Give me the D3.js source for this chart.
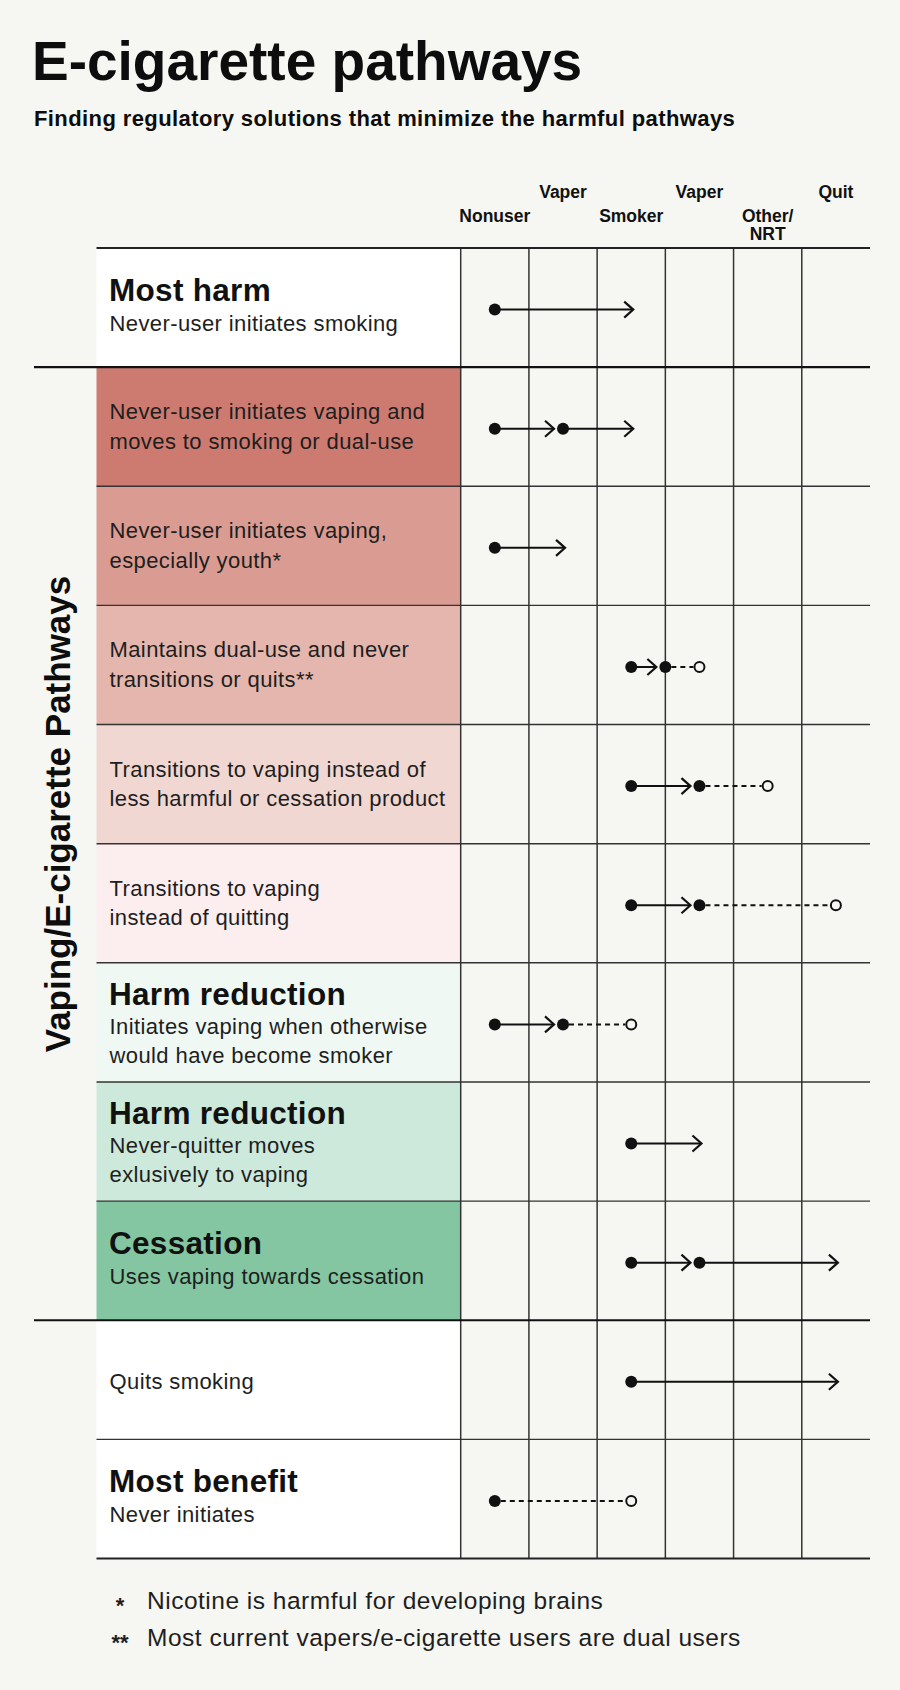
<!DOCTYPE html>
<html>
<head>
<meta charset="utf-8">
<script src="https://cdn.jsdelivr.net/npm/d3@7"></script>
<style>
  html, body { margin: 0; padding: 0; background: #f6f6f2; }
  svg { display: block; }
</style>
</head>
<body>
<svg id="chart" width="900" height="1690"></svg>
<script>
// ---------- data ----------
const titleText = "E-cigarette pathways";
const subtitleText = "Finding regulatory solutions that minimize the harmful pathways";
const groupLabel = "Vaping/E-cigarette Pathways";

const headerLines = [["Nonuser"], ["Vaper"], ["Smoker"], ["Vaper"], ["Other/", "NRT"], ["Quit"]];
const headerTier = [1, 0, 1, 0, 1, 0];

// state positions on the column axis (column index + 0.5 = column centre)
const states = { Nonuser: 0.5, VaperInit: 1.5, Smoker: 2.5, Dual: 3, Vaper: 3.5, Other: 4.5, Quit: 5.5 };

const rowTitles = ["Most harm", null, null, null, null, null, "Harm reduction", "Harm reduction", "Cessation", null, "Most benefit"];
const rowLines = [
  ["Never-user initiates smoking"],
  ["Never-user initiates vaping and", "moves to smoking or dual-use"],
  ["Never-user initiates vaping,", "especially youth*"],
  ["Maintains dual-use and never", "transitions or quits**"],
  ["Transitions to vaping instead of", "less harmful or cessation product"],
  ["Transitions to vaping", "instead of quitting"],
  ["Initiates vaping when otherwise", "would have become smoker"],
  ["Never-quitter moves", "exlusively to vaping"],
  ["Uses vaping towards cessation"],
  ["Quits smoking"],
  ["Never initiates"]
];
const rowFill = ["#ffffff", "#cd7b71", "#da9c92", "#e4b6ad", "#f1d7d2", "#fcedef",
                 "#eff8f3", "#cde9db", "#83c6a1", "#ffffff", "#ffffff"];

const rowSteps = [
  [["Nonuser", "Smoker", "solid"]],
  [["Nonuser", "VaperInit", "solid"], ["VaperInit", "Smoker", "solid"]],
  [["Nonuser", "VaperInit", "solid"]],
  [["Smoker", "Dual", "solid"], ["Dual", "Vaper", "dashed"]],
  [["Smoker", "Vaper", "solid"], ["Vaper", "Other", "dashed"]],
  [["Smoker", "Vaper", "solid"], ["Vaper", "Quit", "dashed"]],
  [["Nonuser", "VaperInit", "solid"], ["VaperInit", "Smoker", "dashed"]],
  [["Smoker", "Vaper", "solid"]],
  [["Smoker", "Vaper", "solid"], ["Vaper", "Quit", "solid"]],
  [["Smoker", "Quit", "solid"]],
  [["Nonuser", "Smoker", "dashed"]]
];

const footMarks = ["*", "**"];
const footTexts = ["Nicotine is harmful for developing brains", "Most current vapers/e-cigarette users are dual users"];

// ---------- layout ----------
const svg = d3.select("#chart");
const W = 900;
const panelLeft = 96.5, gridLeft = 460.7, gridRight = 870, sepLeft = 34;
const gridTop = 248, gridBottom = 1558.5;

const x = d3.scaleLinear().domain([0, 6]).range([gridLeft, gridRight]);
const y = d3.scaleBand().domain(d3.range(rowLines.length)).range([gridTop, gridBottom]).paddingInner(0).paddingOuter(0);

const headFont = "'Liberation Sans', Arial, sans-serif";
const bodyFont = "'Liberation Sans', Arial, sans-serif";

svg.append("rect").attr("width", W).attr("height", 1690).attr("fill", "#f6f6f2");

// title
svg.append("text").attr("x", 32).attr("y", 80)
  .attr("font-family", headFont).attr("font-weight", 700).attr("font-size", 55)
  .attr("fill", "#0d0d0d").text(titleText);
svg.append("text").attr("x", 34).attr("y", 126)
  .attr("font-family", headFont).attr("font-weight", 700).attr("font-size", 22)
  .attr("letter-spacing", 0.4)
  .attr("fill", "#0d0d0d").text(subtitleText);

// header labels
const hdr = svg.append("g");
headerLines.forEach((lines, i) => {
  const base = headerTier[i] === 0 ? 198 : 222;
  const t = hdr.append("text").attr("text-anchor", "middle")
    .attr("font-family", headFont).attr("font-weight", 700).attr("font-size", 17.5)
    .attr("fill", "#111");
  lines.forEach((l, j) => {
    t.append("tspan").attr("x", x(i + 0.5)).attr("y", base + j * 18).text(l);
  });
});

// row label panels
svg.append("g").selectAll("rect").data(rowFill).join("rect")
  .attr("x", panelLeft).attr("y", (d, i) => y(i))
  .attr("width", gridLeft - panelLeft).attr("height", y.bandwidth())
  .attr("fill", d => d);

// row texts
const txt = svg.append("g");
rowLines.forEach((lines, i) => {
  const t0 = y(i);
  const title = rowTitles[i];
  let titleY, lineYs;
  if (title && lines.length === 2) { titleY = 42.5; lineYs = [71, 100]; }
  else if (title) { titleY = 53; lineYs = [83]; }
  else if (lines.length === 2) { lineYs = [52, 81.5]; }
  else { lineYs = [68.5]; }
  if (title) {
    txt.append("text").attr("x", 109).attr("y", t0 + titleY)
      .attr("font-family", bodyFont).attr("font-weight", 700).attr("font-size", 31.5)
      .attr("letter-spacing", 0.3).attr("fill", "#111").text(title);
  }
  lines.forEach((l, j) => {
    txt.append("text").attr("x", 109.5).attr("y", t0 + lineYs[j])
      .attr("font-family", bodyFont).attr("font-size", 22).attr("letter-spacing", 0.4)
      .attr("fill", "#1e1e1e").text(l);
  });
});

// grid lines
const grid = svg.append("g");
d3.range(0, 6).forEach(k => {
  grid.append("line").attr("x1", x(k)).attr("x2", x(k)).attr("y1", gridTop).attr("y2", gridBottom)
    .attr("stroke", "#333").attr("stroke-width", 1.5);
});
d3.range(1, rowLines.length).forEach(i => {
  const thick = (i === 1 || i === 9);
  grid.append("line").attr("x1", thick ? sepLeft : panelLeft).attr("x2", gridRight)
    .attr("y1", y(i)).attr("y2", y(i))
    .attr("stroke", thick ? "#111" : "#333").attr("stroke-width", thick ? 2.2 : 1.4);
});
[gridTop, gridBottom].forEach(v => {
  grid.append("line").attr("x1", panelLeft).attr("x2", gridRight).attr("y1", v).attr("y2", v)
    .attr("stroke", "#222").attr("stroke-width", 2);
});

// group label
svg.append("text")
  .attr("transform", `translate(70,814) rotate(-90)`)
  .attr("text-anchor", "middle")
  .attr("font-family", headFont).attr("font-weight", 700).attr("font-size", 35)
  .attr("fill", "#0d0d0d").text(groupLabel);

// pathways
const marks = svg.append("g");
rowSteps.forEach((steps, i) => {
  const cy = y(i) + y.bandwidth() / 2 + 2;
  steps.forEach((s, k) => {
    const fx = x(states[s[0]]), tx = x(states[s[1]]);
    const next = steps[k + 1];
    if (s[2] === "solid") {
      const tip = next ? tx - 9 : tx + 2;
      marks.append("line").attr("x1", fx).attr("x2", tip - 1).attr("y1", cy).attr("y2", cy)
        .attr("stroke", "#111").attr("stroke-width", 2);
      marks.append("path").attr("d", `M${tip - 9},${cy - 8}L${tip},${cy}L${tip - 9},${cy + 8}`)
        .attr("fill", "none").attr("stroke", "#111").attr("stroke-width", 2.2);
    } else {
      marks.append("line").attr("x1", fx + 6).attr("x2", tx - 6).attr("y1", cy).attr("y2", cy)
        .attr("stroke", "#111").attr("stroke-width", 2).attr("stroke-dasharray", "5,4");
      marks.append("circle").attr("cx", tx).attr("cy", cy).attr("r", 5)
        .attr("fill", "#f6f6f2").attr("stroke", "#111").attr("stroke-width", 2);
    }
    marks.append("circle").attr("cx", fx).attr("cy", cy).attr("r", 6).attr("fill", "#111");
  });
});

// footnotes
footTexts.forEach((t, i) => {
  const by = 1609 + i * 37;
  svg.append("text").attr("x", 120).attr("y", by + 4).attr("text-anchor", "middle")
    .attr("font-family", bodyFont).attr("font-weight", 700).attr("font-size", 22).attr("fill", "#1e1e1e").text(footMarks[i]);
  svg.append("text").attr("x", 147).attr("y", by)
    .attr("font-family", bodyFont).attr("font-size", 24.5).attr("letter-spacing", 0.5)
    .attr("fill", "#1e1e1e").text(t);
});
</script>
</body>
</html>
